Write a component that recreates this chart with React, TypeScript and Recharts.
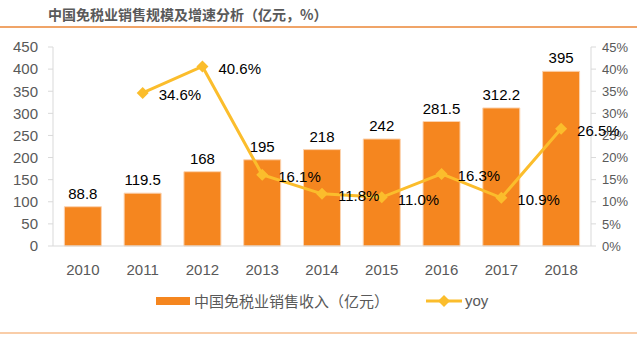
import React from "react";
import {
  ComposedChart,
  Bar,
  Line,
  XAxis,
  YAxis,
  LabelList,
} from "recharts";

const years = ["2010", "2011", "2012", "2013", "2014", "2015", "2016", "2017", "2018"];
const revenue = [88.8, 119.5, 168, 195, 218, 242, 281.5, 312.2, 395];
const yoy = [null, 34.6, 40.6, 16.1, 11.8, 11.0, 16.3, 10.9, 26.5];
const leftTicks = [0, 50, 100, 150, 200, 250, 300, 350, 400, 450];
const rightTicks = [0, 5, 10, 15, 20, 25, 30, 35, 40, 45];

const data = years.map((year, i) => ({ year, revenue: revenue[i], yoy: yoy[i] }));

const FONT = "'Liberation Sans', Arial, 'Noto Sans CJK SC', sans-serif";
const CJK = "'Noto Sans CJK SC', 'Liberation Sans', sans-serif";
const BAR = "#F5861F";
const LINE = "#FBBD2C";
const AXIS = "#D9D9D9";
const GREY = "#595959";

const Diamond = (props: any) => {
  const { cx, cy } = props;
  if (cx == null || cy == null || props.value == null) return null;
  const r = 6;
  return (
    <path
      d={`M${cx},${cy - r}L${cx + r},${cy}L${cx},${cy + r}L${cx - r},${cy}Z`}
      fill={LINE}
    />
  );
};

const YoyLabel = (props: any) => {
  const { x, y, value } = props;
  if (value == null) return null;
  return (
    <text x={x + 16} y={y + 2} dominantBaseline="central" fontSize={15} fill="#000" fontFamily={FONT}>
      {value.toFixed(1)}%
    </text>
  );
};

const LegendBox = () => (
  <div style={{ position: "absolute", left: 0, top: 291, height: 20, width: 637 }}>
    <div style={{ position: "absolute", left: 156, top: 6, width: 34, height: 8, background: BAR }} />
    <div style={{ position: "absolute", left: 194, top: 0, fontSize: 15, lineHeight: "20px", color: GREY, fontFamily: CJK, whiteSpace: "nowrap" }}>
      中国免税业销售收入（亿元）
    </div>
    <svg style={{ position: "absolute", left: 424, top: 0 }} width={40} height={20}>
      <line x1={2} y1={10} x2={38} y2={10} stroke={LINE} strokeWidth={3} />
      <path d="M20,4L26,10L20,16L14,10Z" fill={LINE} />
    </svg>
    <div style={{ position: "absolute", left: 465, top: 0, fontSize: 15, lineHeight: "20px", color: GREY, fontFamily: FONT }}>
      yoy
    </div>
  </div>
);

export default function App() {
  return (
    <div style={{ position: "absolute", left: 0, top: 0, width: 637, height: 340, background: "#fff", fontFamily: FONT }}>
      <div style={{ position: "absolute", left: 48, top: 4, fontSize: 14, fontWeight: "bold", color: GREY, fontFamily: CJK, lineHeight: "20px", whiteSpace: "nowrap" }}>
        中国免税业销售规模及增速分析（亿元，%）
      </div>
      <div style={{ position: "absolute", left: 0, top: 26, width: 637, height: 2, background: "#F0A468" }} />
      <div style={{ position: "absolute", left: 0, top: 332, width: 637, height: 2, background: "#F9CDA8" }} />
      <div style={{ position: "absolute", left: 0, top: 0 }}>
        <ComposedChart
          width={637}
          height={340}
          data={data}
          margin={{ top: 47, right: 0, bottom: 64, left: 0 }}
          barCategoryGap="19%"
        >
          <XAxis
            dataKey="year"
            height={30}
            axisLine={{ stroke: AXIS }}
            tickLine={false}
            tickMargin={12}
            tick={{ fill: GREY, fontSize: 15, fontFamily: FONT }}
          />
          <YAxis
            yAxisId="left"
            width={53}
            domain={[0, 450]}
            ticks={leftTicks}
            interval={0}
            axisLine={{ stroke: AXIS }}
            tickLine={{ stroke: AXIS }}
            tickSize={5}
            tickMargin={10}
            tick={{ fill: GREY, fontSize: 15, fontFamily: FONT }}
          />
          <YAxis
            yAxisId="right"
            orientation="right"
            width={46}
            domain={[0, 45]}
            ticks={rightTicks}
            interval={0}
            tickFormatter={(v: number) => `${v}%`}
            axisLine={{ stroke: AXIS }}
            tickLine={{ stroke: AXIS }}
            tickSize={5}
            tickMargin={6}
            tick={{ fill: GREY, fontSize: 13, fontFamily: FONT }}
          />
          <Bar
            yAxisId="left"
            dataKey="revenue"
            fill={BAR}
            stroke="#FBD3B0"
            strokeWidth={1}
            isAnimationActive={false}
          >
            <LabelList
              dataKey="revenue"
              position="top"
              offset={8}
              fill="#000"
              fontSize={15}
              fontFamily={FONT}
            />
          </Bar>
          <Line
            yAxisId="right"
            dataKey="yoy"
            stroke={LINE}
            strokeWidth={3}
            dot={<Diamond />}
            activeDot={false}
            isAnimationActive={false}
          >
            <LabelList dataKey="yoy" content={<YoyLabel />} />
          </Line>
        </ComposedChart>
      </div>
      <LegendBox />
    </div>
  );
}
